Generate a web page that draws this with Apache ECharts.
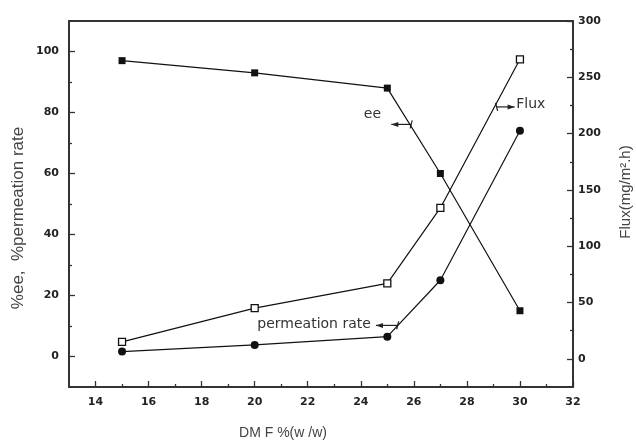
<!DOCTYPE html>
<html>
<head>
<meta charset="utf-8">
<script src="https://cdn.jsdelivr.net/npm/echarts@6/dist/echarts.min.js"></script>
<style>html,body{margin:0;padding:0;background:#fff}#c{width:636px;height:442px}</style>
</head>
<body>
<div id="c"></div>
<script>
// ---- data ----
const dmf = [15, 20, 25, 27, 30];
const eeValues = [97, 93, 88, 60, 15];
const permValues = [1.6, 3.8, 6.5, 25, 74];
const fluxValues = [15, 45, 67, 134, 266];
const xTickLabels = [14, 16, 18, 20, 22, 24, 26, 28, 30, 32];
const xMinorTicks = [15, 17, 19, 21, 23, 25, 27, 29, 31];
const leftTickLabels = [0, 20, 40, 60, 80, 100];
const leftMinorTicks = [10, 30, 50, 70, 90];
const rightTickLabels = [0, 50, 100, 150, 200, 250, 300];
const rightMinorTicks = [25, 75, 125, 175, 225, 275];
// annotations in data units: [x, y] on given y axis
const notes = [
  {text: 'ee', axis: 0, from: [25.9, 76.1], to: [25.15, 76.1], at: [24.44, 79.3], align: 'center'},
  {text: 'Flux', axis: 1, from: [29.12, 223.7], to: [29.80, 223.7], at: [29.86, 226], align: 'left'},
  {text: 'permeation rate', axis: 0, from: [25.39, 10.2], to: [24.57, 10.2], at: [24.38, 10.6], align: 'right'}
];

const pair = (xs, ys) => xs.map((x, i) => [x, ys[i]]);
const lblFont = {fontFamily: 'DejaVu Sans', fontWeight: 'bold', fontSize: 11, color: '#222'};
const axisCol = '#333';

const chart = echarts.init(document.getElementById('c'), null, {renderer: 'canvas'});
const option = {
  backgroundColor: '#fff',
  animation: false,
  grid: {left: 69, right: 63, top: 21, bottom: 55},
  xAxis: [
    {type: 'value', min: 13, max: 32, position: 'bottom',
     axisLine: {onZero: false, lineStyle: {color: axisCol, width: 2}},
     axisTick: {inside: true, length: 6, customValues: xTickLabels, lineStyle: {color: axisCol, width: 1.3}},
     axisLabel: Object.assign({customValues: xTickLabels, margin: 10}, lblFont),
     splitLine: {show: false}},
    {type: 'value', min: 13, max: 32, position: 'bottom',
     axisLine: {show: false, onZero: false},
     axisTick: {inside: true, length: 3, customValues: xMinorTicks, lineStyle: {color: axisCol, width: 1.3}},
     axisLabel: {show: false}, splitLine: {show: false}},
    {type: 'value', min: 13, max: 32, position: 'top',
     axisLine: {onZero: false, lineStyle: {color: axisCol, width: 2}},
     axisTick: {show: false}, axisLabel: {show: false}, splitLine: {show: false}}
  ],
  yAxis: [
    {type: 'value', min: -10, max: 110, position: 'left',
     axisLine: {show: true, onZero: false, lineStyle: {color: axisCol, width: 2}},
     axisTick: {show: true, inside: true, length: 6, customValues: leftTickLabels, lineStyle: {color: axisCol, width: 1.3}},
     axisLabel: Object.assign({customValues: leftTickLabels, margin: 10}, lblFont),
     splitLine: {show: false}},
    {type: 'value', min: -25, max: 300, position: 'right',
     axisLine: {show: true, onZero: false, lineStyle: {color: axisCol, width: 2}},
     axisTick: {show: true, inside: true, length: 6, customValues: rightTickLabels, lineStyle: {color: axisCol, width: 1.3}},
     axisLabel: Object.assign({customValues: rightTickLabels, margin: 5}, lblFont),
     splitLine: {show: false}},
    {type: 'value', min: -10, max: 110, position: 'left',
     axisLine: {show: false, onZero: false},
     axisTick: {show: true, inside: true, length: 3, customValues: leftMinorTicks, lineStyle: {color: axisCol, width: 1.3}},
     axisLabel: {show: false}, splitLine: {show: false}},
    {type: 'value', min: -25, max: 300, position: 'right',
     axisLine: {show: false, onZero: false},
     axisTick: {show: true, inside: true, length: 3, customValues: rightMinorTicks, lineStyle: {color: axisCol, width: 1.3}},
     axisLabel: {show: false}, splitLine: {show: false}}
  ],
  series: [
    {name: 'ee', type: 'line', yAxisIndex: 0, data: pair(dmf, eeValues),
     symbol: 'rect', symbolSize: 7, showAllSymbol: true,
     lineStyle: {color: '#111', width: 1.2}, itemStyle: {color: '#111', borderWidth: 0}},
    {name: 'permeation rate', type: 'line', yAxisIndex: 0, data: pair(dmf, permValues),
     symbol: 'circle', symbolSize: 8,
     lineStyle: {color: '#111', width: 1.2}, itemStyle: {color: '#111', borderWidth: 0}},
    {name: 'Flux', type: 'line', yAxisIndex: 1, data: pair(dmf, fluxValues),
     symbol: 'rect', symbolSize: 7,
     lineStyle: {color: '#111', width: 1.2}, itemStyle: {color: '#fff', borderColor: '#111', borderWidth: 1.3}}
  ]
};
chart.setOption(option);

// text + arrow annotations placed from data coordinates
const g = [];
notes.forEach(n => {
  const f = chart.convertToPixel({xAxisIndex: 0, yAxisIndex: n.axis}, n.from);
  const t = chart.convertToPixel({xAxisIndex: 0, yAxisIndex: n.axis}, n.to);
  const p = chart.convertToPixel({xAxisIndex: 0, yAxisIndex: n.axis}, n.at);
  const dir = Math.sign(t[0] - f[0]);
  g.push({type: 'line', shape: {x1: f[0], y1: f[1], x2: t[0], y2: t[1]}, style: {stroke: '#222', lineWidth: 1.2}, silent: true});
  g.push({type: 'line', shape: {x1: f[0] - dir * 1, y1: f[1] - 4, x2: f[0] + dir * 1, y2: f[1] + 4}, style: {stroke: '#222', lineWidth: 1.2}, silent: true});
  g.push({type: 'polygon', shape: {points: [[t[0], t[1]], [t[0] - dir * 7, t[1] - 2.5], [t[0] - dir * 7, t[1] + 2.5]]}, style: {fill: '#222'}, silent: true});
  g.push({type: 'text', x: p[0], y: p[1], style: {text: n.text, fill: '#333', font: '14px "DejaVu Sans"', align: n.align, verticalAlign: 'middle'}, silent: true});
});
// axis titles
g.push({type: 'text', x: 18, y: 218, rotation: Math.PI / 2, style: {text: '%ee,  %permeation rate', fill: '#444', font: '17px "Liberation Sans"', align: 'center', verticalAlign: 'middle'}, silent: true});
g.push({type: 'text', x: 626, y: 192, rotation: Math.PI / 2, style: {text: 'Flux(mg/m\u00b2.h)', fill: '#444', font: '15px "Liberation Sans"', align: 'center', verticalAlign: 'middle'}, silent: true});
g.push({type: 'text', x: 283, y: 433, style: {text: 'DM F %(w /w)', fill: '#444', font: '14px "Liberation Sans"', align: 'center', verticalAlign: 'middle'}, silent: true});
chart.setOption({graphic: g});
</script>
</body>
</html>
